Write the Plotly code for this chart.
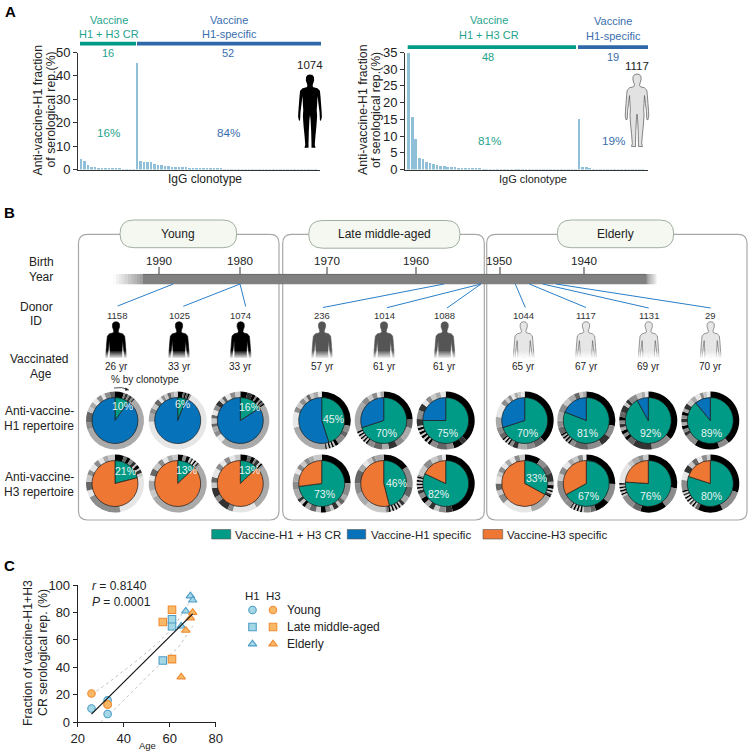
import plotly.graph_objects as go

# ---------- data ----------
A1_cr = [4.8,3.7,2.0,1.4,1.2,0.9,0.7,0.6,0.6,0.5,0.5,0.5,0.4,0.4,0.3,0.3]
A1_h1 = [45.8,4.0,3.6,3.5,3.4,2.4,2.2,2.0,1.9,1.7,1.4,1.3,1.2,1.1,1.1,1.0,1.0,0.7,0.6,0.6,
         0.6,0.5,0.5,0.5,0.5,0.4,0.4,0.4,0.4,0.4,0.3,0.3,0.3,0.3,0.3,0.3,0.3,0.2,0.2,0.2,
         0.2,0.2,0.2,0.2,0.2,0.2,0.1,0.1,0.1,0.1,0.1,0.1]
A2_cr = [35,16,9.2,3.7,3.4,2.3,2.2,1.7,1.4,1.3,1.1,1.0,0.9,0.8,0.7,0.6,0.6,0.5,0.5,0.4,
         0.4,0.3,0.3,0.3,0.3,0.2,0.2,0.2,0.2,0.2,0.2,0.2,0.2,0.1,0.1,0.1,0.1,0.1,0.1,0.1,
         0.1,0.1,0.1,0.1,0.1,0.1,0.1,0.1]
A2_h1 = [15.4,1.0,1.0,0.4,0.3,0.3,0.3,0.3,0.2,0.2,0.2,0.1,0.1,0.1,0.1,0.1,0.1,0.1,0.1]

donors = ["1158","1025","1074","236","1014","1088","1044","1117","1131","29"]
ages = [26,33,33,57,61,61,65,67,69,70]
age_group = ["Young"]*3 + ["Late"]*3 + ["Elderly"]*4
cr_h1 = [10,6,16,45,70,75,70,81,92,89]
cr_h3 = [21,13,13,73,46,82,33,67,76,80]

gray_levels = ["#000000","#333333","#666666","#8c8c8c","#aaaaaa","#c8c8c8","#e6e6e6"]

ring_h1_sizes = [
 [5,1,1.5,1,1.5,1,1,58,4,6,3,3,3,3,2,3,3],
 [3,1,1,1,1,1,67,5,3,3,3,2,2,2,2,2,2],
 [4,3,2,1,2,1,1,1,1,46,4,3,3,2,3,2,3,3,3,2,2,3,3,3],
 [28,4,3,5,2,1,1,1,1,1,1,23,9,3,3,3,2,2,2,3,2],
 [25,5,8,5,5,4,5,4,1,1,1,1,1,1,1,1,1,18,4,3,3,2,2],
 [37,3,5,4,6,4,1.5,1,1.5,1,1.5,1,1.5,1,1.5,1,4,5,4,3,3,3,3,3],
 [38,6,5,5,3,2,1,1,1,1,1,3,4,6,8,3,2,2,2,2,2,2],
 [28,7,6,8,8,3,1,1,1,1,1,1,1,4,4,5,5,4,4,3,2,2],
 [36,12,11,4,2,2,2,2,2,2,2,3,4,2,2,5,3,2,2],
 [39,6,14,7,2,2,2,2,2,2,2,2,3,3,3,3,2,2,2],
]
ring_h1_tones = [
 [0,3,1,3,1,3,1,4,3,2,5,4,6,3,6,3,2],
 [0,2,0,2,0,3,6,4,3,5,2,6,3,5,2,4,5],
 [0,1,0,3,0,3,0,2,0,4,6,3,4,2,5,2,6,3,1,5,2,6,3,5],
 [0,3,2,3,0,5,0,5,0,5,1,4,6,3,5,3,5,2,5,4,6],
 [0,2,4,3,1,4,2,3,0,5,0,5,0,5,0,5,0,4,3,5,3,6,4],
 [0,1,0,3,2,3,0,5,0,5,0,5,0,5,0,5,1,3,1,6,3,5,4,6],
 [0,2,3,4,1,3,0,5,0,5,0,2,3,4,6,3,5,3,6,4,5,6],
 [0,3,1,3,2,3,0,4,0,4,0,4,0,2,3,4,3,5,4,2,5,4],
 [0,3,1,2,0,3,0,4,1,3,0,2,1,5,1,3,5,4,6],
 [0,3,0,3,1,3,0,4,1,3,0,4,1,5,4,6,3,5,6],
]
ring_h3_sizes = [
 [5,2,2,2,2,1,2,1,2,2,26,20,4,5,4,3,4,3,3,3,4],
 [3,2,2,1,1,1,1,1,1,1,52,4,6,3,4,4,3,3,3,3],
 [4,2,2,1,2,1,1,1,24,13,3,6,3,5,3,3,5,3,3,3,3,3],
 [26,8,3,3,2,3,2,3,3,3,4,3,2,2,2,6,5,5,3,3,3,3,3,5],
 [15,12,6,4,2,1,1,1,1,1,1,1,1,1,1,12,8,6,8,4,3,3,2,5],
 [46,4,4,3,3,3,3,3,2,1,1,1,1,1,1,1,1,1,6,5,4,3,2],
 [9,5,5,5,2,2,1,1,1,1,1,13,17,5,3,4,4,3,3,3,3,3,3,3],
 [25,11,8,3,4,1,1,1,1,1,1,1,1,4,13,4,4,4,3,3,3,2],
 [28,12,15,5,8,1,1,1,1,1,1,1,1,12,3,4,3,3],
 [30,13,14,2,1,1,1,1,1,1,1,1,1,1,1,1,6,5,4,3,3,3,3,2],
]
ring_h3_tones = [
 [0,2,0,3,1,5,0,5,1,5,6,3,6,2,5,3,6,3,6,4,5],
 [0,3,0,5,1,6,0,5,1,3,4,5,4,6,2,5,3,6,4,5],
 [0,2,0,3,1,5,0,3,4,6,3,1,3,1,5,2,6,3,6,3,6,5],
 [0,3,4,2,5,1,5,3,0,5,2,4,0,5,1,4,3,4,6,3,5,3,4,5],
 [0,3,2,4,1,5,0,5,0,5,0,5,0,2,3,5,4,3,2,4,6,5,3,4],
 [0,1,3,5,1,4,0,3,1,5,0,5,0,5,0,5,0,3,5,3,5,4,6],
 [0,3,2,1,4,0,5,0,5,1,0,4,6,3,5,2,6,5,3,6,4,6,3,5],
 [0,3,0,2,3,5,0,5,0,5,0,5,1,3,3,5,3,6,4,5,3,6],
 [0,3,0,2,3,5,0,5,0,5,0,5,0,6,5,4,3,5],
 [0,3,0,2,5,0,5,1,6,0,5,0,6,1,5,0,3,6,1,5,2,6,3,5],
]

scatter_h1_age = ages
scatter_h1_val = [10,6,16,45,70,75,70,81,92,89]
scatter_h3_age = ages
scatter_h3_val = [21,13,13,73,46,82,33,67,76,80]
fit_age = [26,70]
fit_val = [6,79]
ci_up_age = [26,35,45,55,62,68,70]
ci_up_val = [20,31,44,58,70,86,90]
ci_lo_age = [30,40,50,58,64,70]
ci_lo_val = [0,16,33,46,55,70]

# ---------- layout helpers ----------
W, H = 752, 756
TEAL, BLUE = "#009b86", "#0672b9"
ORANGE = "#ee7733"
TXT = "#222222"
FONT = "Liberation Sans, Arial, sans-serif"
BAR = "#8fc0d8"
fig = go.Figure()
shapes, notes = [], []

def px(x0, x1): return [x0/W, x1/W]
def py(y0, y1): return [1-y1/H, 1-y0/H]   # y0 top, y1 bottom

def text(x, y, s, size=12, color=TXT, anchor="center", angle=0, **kw):
    notes.append(dict(x=x - (1.5 if anchor == "left" else 0), y=y, xref="x4", yref="y4", text=s,
                      showarrow=False, xanchor=anchor, yanchor="middle", textangle=angle,
                      font=dict(size=size, color=color, family=FONT), **kw))

def rect(x0, y0, x1, y1, fill, line=None, lw=0, opacity=1):
    shapes.append(dict(type="rect", xref="x4", yref="y4", x0=x0, y0=y0, x1=x1, y1=y1,
                       fillcolor=fill, opacity=opacity, line=dict(color=line or fill, width=lw)))

def seg(x0, y0, x1, y1, color, lw=1):
    shapes.append(dict(type="line", xref="x4", yref="y4", x0=x0, y0=y0, x1=x1, y1=y1,
                       line=dict(color=color, width=lw)))

def path(d, fill="rgba(0,0,0,0)", line="rgba(0,0,0,0)", lw=0):
    shapes.append(dict(type="path", xref="x4", yref="y4", path=d, fillcolor=fill,
                       line=dict(color=line, width=lw)))

BODY = [(0,0),(2.5,.6),(4,2.5),(4.2,6),(3,9.5),(2.6,11.5),(3.5,13),(7.5,14),(10,16.5),(10.6,22),
        (11.2,30),(11.8,38),(12,43),(11,47),(10,46),(9.6,38),(8.6,30),(7.9,24),(7.6,22),(7.2,30),
        (6.8,36),(7.2,42),(6.5,52),(5.5,62),(4.8,71),(5.6,74),(1.5,74),(1.5,70),(1.2,58),(.6,46),(0,41)]

def body(cx, top, scale, fill, line=None, lw=0):
    pts = [(cx+x*scale, top+y*scale) for x, y in BODY]
    pts += [(cx-x*scale, top+y*scale) for x, y in reversed(BODY[1:-1])]
    d = "M" + " L".join(f"{a:.2f},{b:.2f}" for a, b in pts) + " Z"
    path(d, fill, line or fill, lw)

# ---------- panel A ----------
def panel_a(cr, h1, ax, xdom, xr, ymax, dtick):
    vals = cr + h1
    fig.add_bar(x=list(range(len(vals))), y=vals, marker=dict(color=BAR, line_width=0),
                width=0.74, xaxis=f"x{ax}", yaxis=f"y{ax}", showlegend=False)
    fig.update_layout(**{
        f"xaxis{ax}": dict(domain=px(*xdom), range=xr, showticklabels=False, ticks="", showgrid=False,
                           zeroline=False, showline=True, linecolor="#333333", linewidth=1,
                           anchor=f"y{ax}"),
        f"yaxis{ax}": dict(domain=py(52.5, 169.5), range=[0, ymax], dtick=dtick, showgrid=False,
                           zeroline=False, showline=True, linecolor="#333333", linewidth=1,
                           ticks="outside", ticklen=4, tickcolor="#333333", anchor=f"x{ax}",
                           tickfont=dict(size=13, color=TXT, family=FONT)),
    })

panel_a(A1_cr, A1_h1, "", (78, 320), [-0.85, 68.3], 50, 10)
panel_a(A2_cr, A2_h1, "2", (405, 648), [-1.04, 67.4], 35, 5)

for dx in (37.5, 363):
    text(dx, 110, "Anti-vaccine-H1 fraction", 12.3, angle=-90)
    text(dx+13, 110, "of serological rep.(%)", 12.3, angle=-90)
text(205, 179, "IgG clonotype", 12)
text(533, 179, "IgG clonotype", 11)

C_T, C_B = "#1fa38c", "#3a6eae"
rect(80, 41.8, 136, 45.5, TEAL); rect(137, 41.8, 321, 45.5, "#2f68a8")
rect(407.7, 45.2, 576, 49, TEAL); rect(578, 45.2, 648, 49, "#2f68a8")
LBL = 11
text(108.5, 20, "Vaccine", LBL, C_T); text(108.5, 34, "H1 + H3 CR", LBL, C_T)
text(229, 20, "Vaccine", LBL, C_B); text(229, 34, "H1-specific", LBL, C_B)
text(489, 20, "Vaccine", LBL, C_T); text(489, 34.5, "H1 + H3 CR", LBL, C_T)
text(613, 21, "Vaccine", LBL, C_B); text(613, 35.5, "H1-specific", LBL, C_B)
text(108, 53, "16", 11, C_T); text(227.5, 53, "52", 11, C_B)
text(487.5, 57, "48", 11, C_T); text(612.5, 57, "19", 11, C_B)
text(108, 132.5, "16%", 11.7, C_T); text(228, 132.5, "84%", 11.7, C_B)
text(489, 140, "81%", 11.7, C_T); text(613, 140, "19%", 11.7, C_B)
text(310, 65, "1074", 11.5); text(637, 66, "1117", 11.5)
body(310, 74.5, 0.99, "#000000")
body(637, 74, 0.98, "#e2e2e2", "#555555", 0.7)

# panel letters
text(10, 11, "<b>A</b>", 15, "#000000")
text(9, 212, "<b>B</b>", 15, "#000000")
text(9, 565, "<b>C</b>", 15, "#000000")

# ---------- panel B frames ----------
def round_box(x0, y0, x1, y1, r):
    d = (f"M{x0},{y1-r} Q{x0},{y1} {x0+r},{y1} L{x1-r},{y1} Q{x1},{y1} {x1},{y1-r} "
         f"L{x1},{y0+r} Q{x1},{y0} {x1-r},{y0} L{x0+r},{y0} Q{x0},{y0} {x0},{y0+r} Z")
    path(d, "rgba(0,0,0,0)", "#a8a8a8", 1.2)

def pill(x0, x1, y0, y1, label):
    r = (y1-y0)/2
    d = (f"M{x0+r},{y0} L{x1-r},{y0} Q{x1},{y0} {x1},{y0+r} Q{x1},{y1} {x1-r},{y1} "
         f"L{x0+r},{y1} Q{x0},{y1} {x0},{y0+r} Q{x0},{y0} {x0+r},{y0} Z")
    path(d, "#f4f8f0", "#97a797", 0.9)
    text((x0+x1)/2, (y0+y1)/2, label, 12)

round_box(78.5, 234.3, 279, 520, 9)
round_box(282.7, 234.3, 484.3, 520, 9)
round_box(486.7, 234.3, 747, 520, 9)
pill(120, 236.7, 220, 247.7, "Young")
pill(308.7, 460, 220.5, 248.2, "Late middle-aged")
pill(557.3, 673.7, 220, 247.7, "Elderly")

# timeline
rect(143, 274, 646, 284.3, "#808080")
seg(143, 274.4, 646, 274.4, "#666666", 0.8)
for i in range(10):
    rect(113+3*i, 274, 116+3*i, 284.3, "#808080", opacity=0.03+0.08*i)
    rect(646+1.1*i, 274, 647.1+1.1*i, 284.3, "#808080", opacity=0.9-0.09*i)
for yr, x in zip(["1990","1980","1970","1960","1950","1940"], [159,240,327,416,500,584]):
    text(x + (0 if yr != "1950" else -1), 260, yr, 11.7)
    seg(x, 267, x, 274, "#333333", 1)

LINK = "#2a7fc9"
for x0, x1, y1 in [(173.3,117.7,306),(240,183.3,306.3),(240,245.7,306.5),(444,323,307.5),
                   (481,387,307.7),(481,447,308),(515.3,525.3,307.5),(529.3,586,307.5),
                   (542.7,648.7,308),(556,710.7,308)]:
    seg(x0, 284, x1, y1, LINK, 1)

text(41, 262, "Birth", 12); text(41, 277, "Year", 12)
text(36, 307, "Donor", 12); text(36, 321, "ID", 12)
text(39, 358.5, "Vaccinated", 12); text(41, 373.5, "Age", 12)
text(39, 411, "Anti-vaccine-", 12); text(39, 426, "H1 repertoire", 12)
text(39, 477, "Anti-vaccine-", 12); text(39, 492, "H3 repertoire", 12)
text(145, 379.5, "% by clonotype", 10)
path("M114,388 Q122,386.5 128,389.5", line="#222222", lw=0.8)
path("M125.5,387.8 L129,390 L125.2,390.6 Z", fill="#222222", line="#222222", lw=0.3)

body_x = [116,179,240.7,322,384,444.7,523.7,586,648.7,710.7]
for i, cx in enumerate(body_x):
    g = age_group[i]
    fill = {"Young":"#000000","Late":"#555555","Elderly":"#e6e6e6"}[g]
    body(cx, 321.7, 0.86, fill, "#555555" if g == "Elderly" else fill, 0.6)
    for k in range(7):
        rect(cx-13, 351+k, cx+13, 352+k, "#ffffff", opacity=0.14+0.12*k)
    rect(cx-13, 358, cx+13, 387, "#ffffff")
    text(cx + (0 if i else 0.5), 315, donors[i], 9.5, "#333333")
    text(cx if i else 116.5, 366, f"{ages[i]} yr", 10, "#222222")

# pies
pie_x = [115,177.7,240.3,321.7,383.7,445.7,524.7,586.3,648.3,710.3]
pie_rows = [(420.5, cr_h1, BLUE, ring_h1_sizes, ring_h1_tones),
            (483.5, cr_h3, ORANGE, ring_h3_sizes, ring_h3_tones)]
RO, RI = 29, 23
for yc, share, other, sizes, tones in pie_rows:
    for i, xc in enumerate(pie_x):
        fig.add_pie(values=sizes[i], marker=dict(colors=[gray_levels[t] for t in tones[i]], line_width=0),
                    sort=False, direction="clockwise", rotation=0, hole=0.76, textinfo="none",
                    hoverinfo="skip", showlegend=False,
                    domain=dict(x=px(xc-RO, xc+RO), y=py(yc-RO, yc+RO)))
        fig.add_pie(values=[share[i], 100-share[i]],
                    marker=dict(colors=[TEAL, other], line=dict(color="#1a1a1a", width=0.7)),
                    sort=False, direction="clockwise", rotation=0, textinfo="none",
                    hoverinfo="skip", showlegend=False,
                    domain=dict(x=px(xc-RI, xc+RI), y=py(yc-RI, yc+RI)))

h1_lab = [(122.7,405.7),(182.3,404.3),(249,407.3),(333.7,419.3),(386.7,432.7),(447,432.7),
          (527.3,432.7),(587.3,432.7),(650.3,432.7),(711.7,432.7)]
h3_lab = [(125.3,471),(186.7,469.7),(249,469.7),(324.3,493.7),(396.3,482.7),(438.7,493.7),
          (536.3,478),(588.3,495.7),(650.3,495.7),(711.7,495.7)]
for labs, vals in ((h1_lab, cr_h1), (h3_lab, cr_h3)):
    for (x, y), v in zip(labs, vals):
        text(x, y, f"{v}%", 10.5, "#e8f4f0")

# legend B
rect(211.7, 529.5, 230.7, 539, TEAL, "#555555", 0.6)
rect(347.3, 529.5, 365.7, 539, BLUE, "#555555", 0.6)
rect(483, 529.5, 502.7, 539, ORANGE, "#555555", 0.6)
text(234, 534.5, "Vaccine-H1 + H3 CR", 11.5, anchor="left")
text(370, 534.5, "Vaccine-H1 specific", 11.5, anchor="left")
text(506.7, 534.5, "Vaccine-H3 specific", 11.5, anchor="left")

# ---------- panel C ----------
fig.update_layout(
    xaxis3=dict(domain=px(77.7, 215.7), range=[20, 80], dtick=20, showgrid=False, zeroline=False,
                showline=True, linecolor="#222222", linewidth=1, ticks="outside", ticklen=4,
                tickcolor="#222222", anchor="y3", tickfont=dict(size=13, color=TXT, family=FONT)),
    yaxis3=dict(domain=py(585, 722.3), range=[0, 100], dtick=20, showgrid=False, zeroline=False,
                showline=True, linecolor="#222222", linewidth=1, ticks="outside", ticklen=4,
                tickcolor="#222222", anchor="x3", tickfont=dict(size=13, color=TXT, family=FONT)),
    xaxis4=dict(domain=[0, 1], range=[0, W], visible=False, anchor="y4"),
    yaxis4=dict(domain=[0, 1], range=[H, 0], visible=False, anchor="x4"),
)
sym = {"Young":"circle","Late":"square","Elderly":"triangle-up"}
H1M = dict(color="#a5d8e6", line=dict(color="#4d9cc6", width=1.1))
H3M = dict(color="#f9b865", line=dict(color="#ef8c33", width=1.1))
syms = [sym[g] for g in age_group]
for ax_, ay_ in ((ci_up_age, ci_up_val), (ci_lo_age, ci_lo_val)):
    fig.add_scatter(x=ax_, y=ay_, mode="lines", line=dict(color="#999999", width=0.6, dash="dot"),
                    xaxis="x3", yaxis="y3", showlegend=False, hoverinfo="skip")
fig.add_scatter(x=scatter_h1_age, y=scatter_h1_val, mode="markers", xaxis="x3", yaxis="y3",
                marker=dict(symbol=syms, size=7.5, **H1M), showlegend=False, cliponaxis=False)
fig.add_scatter(x=scatter_h3_age, y=scatter_h3_val, mode="markers", xaxis="x3", yaxis="y3",
                marker=dict(symbol=syms, size=7.5, **H3M), showlegend=False, cliponaxis=False)
fig.add_scatter(x=fit_age, y=fit_val, mode="lines", line=dict(color="#111111", width=1.2),
                xaxis="x3", yaxis="y3", showlegend=False)

text(28, 653, "Fraction of vaccine-H1+H3", 12.3, angle=-90)
text(43, 653, "CR serological rep. (%)", 12.3, angle=-90)
text(147, 745.5, "Age", 9.5)
text(91, 585.5, "<i>r</i> = 0.8140", 12, anchor="left")
text(91, 601.5, "<i>P</i> = 0.0001", 12, anchor="left")
text(252.5, 595.5, "H1", 11.5); text(273.5, 595.5, "H3", 11.5)
legend_sym = ["circle","square","triangle-up"]
legend_lab = ["Young","Late middle-aged","Elderly"]
legend_y = [610,627,644]
fig.add_scatter(x=[252.5]*3, y=legend_y, mode="markers", xaxis="x4", yaxis="y4",
                marker=dict(symbol=legend_sym, size=7.5, **H1M), showlegend=False)
fig.add_scatter(x=[273]*3, y=legend_y, mode="markers", xaxis="x4", yaxis="y4",
                marker=dict(symbol=legend_sym, size=7.5, **H3M), showlegend=False)
for y, s in zip(legend_y, legend_lab):
    text(286.5, y, s, 12, anchor="left")

fig.update_layout(width=W, height=H, margin=dict(l=0, r=0, t=0, b=0, pad=0, autoexpand=False),
                  paper_bgcolor="white",
                  plot_bgcolor="rgba(0,0,0,0)", showlegend=False, bargap=0,
                  shapes=shapes, annotations=notes, font=dict(family=FONT, color=TXT))
fig.write_html("out.html", config={"displayModeBar": False},
               post_script="document.body.style.margin='0';")
